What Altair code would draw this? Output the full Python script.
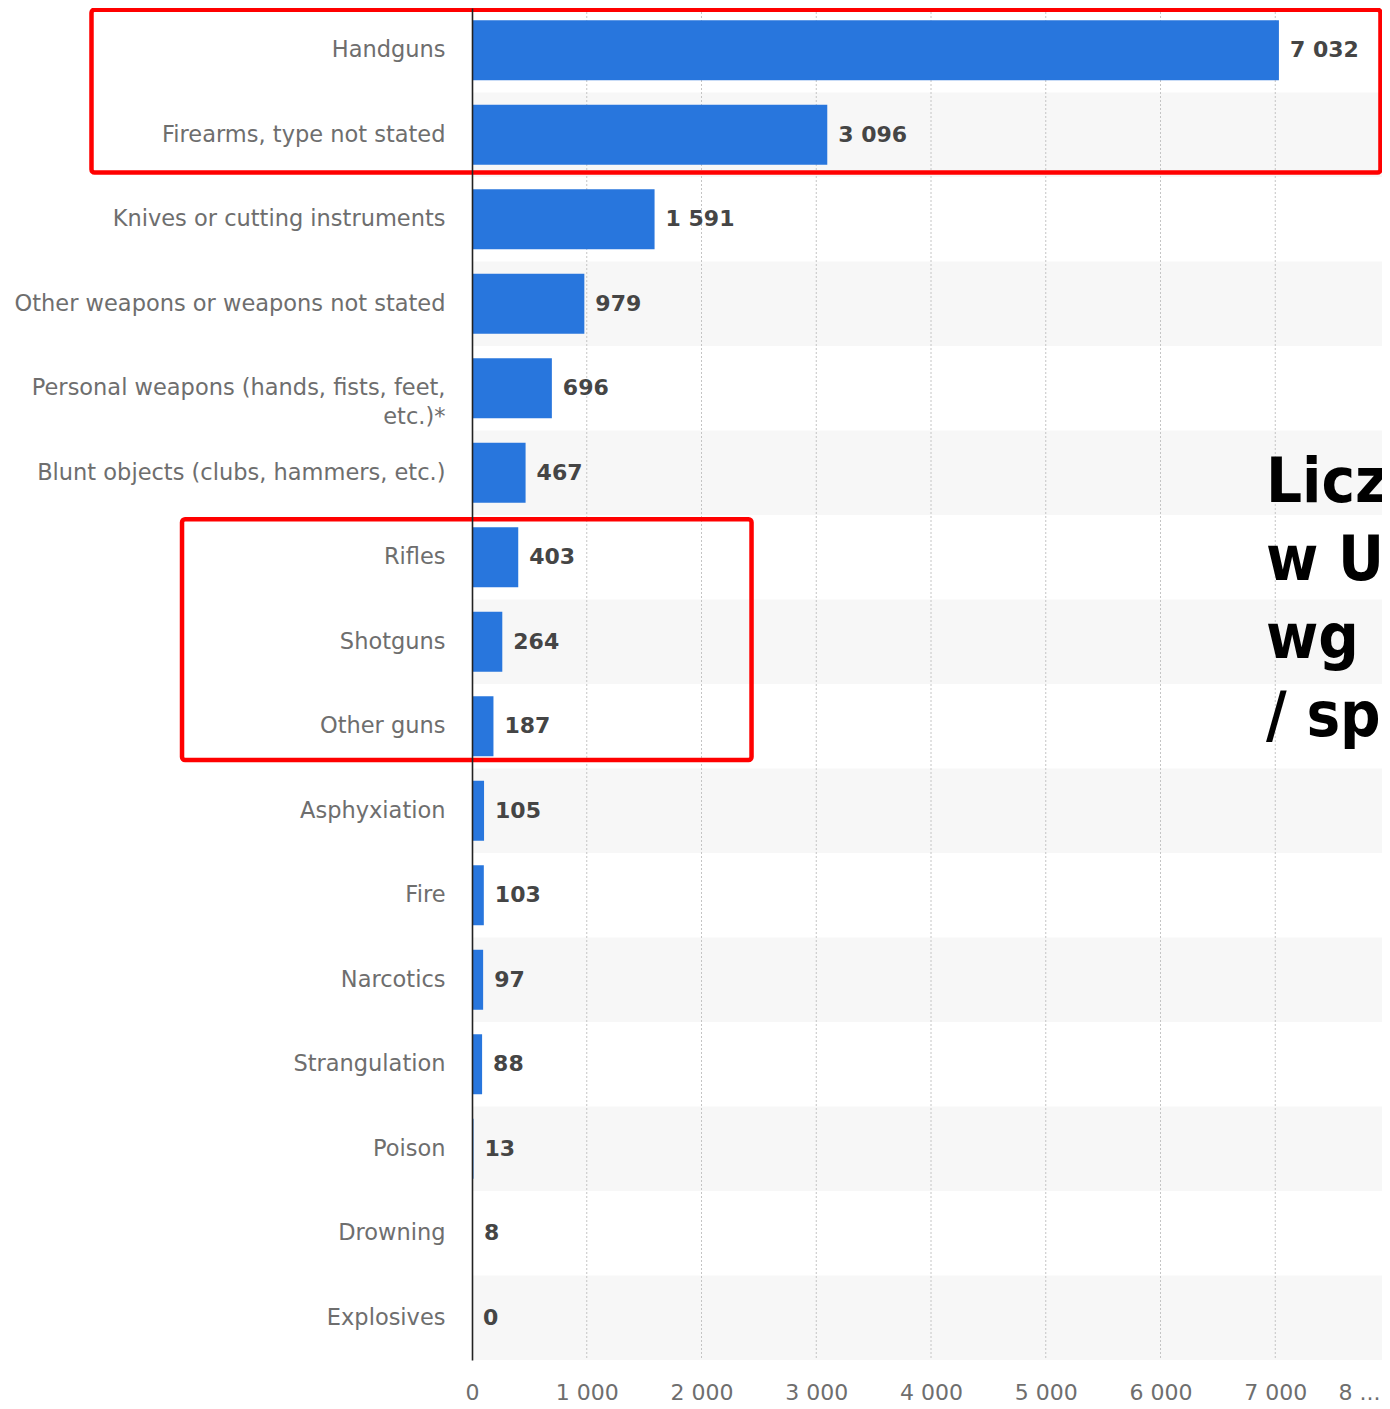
import json
import altair as alt
import pandas as pd

# ---------------- data ----------------
categories = [
    "Handguns",
    "Firearms, type not stated",
    "Knives or cutting instruments",
    "Other weapons or weapons not stated",
    "Personal weapons (hands, fists, feet, etc.)*",
    "Blunt objects (clubs, hammers, etc.)",
    "Rifles",
    "Shotguns",
    "Other guns",
    "Asphyxiation",
    "Fire",
    "Narcotics",
    "Strangulation",
    "Poison",
    "Drowning",
    "Explosives",
]
values = [7032, 3096, 1591, 979, 696, 467, 403, 264, 187, 105, 103, 97, 88, 13, 8, 0]

x_ticks = [0, 1000, 2000, 3000, 4000, 5000, 6000, 7000, 8000]
x_tick_labels = ["0", "1 000", "2 000", "3 000", "4 000", "5 000", "6 000", "7 000", "8 ..."]
grid_ticks = [1000, 2000, 3000, 4000, 5000, 6000, 7000]

# highlight boxes (x in data units, y in row units from the top)
box_x0 = [-3316, -2527]
box_x1 = [7917, 2436]
box_row0 = [0.02, 6.05]
box_row1 = [1.947, 8.9]

# overlay heading (cut off by the right edge in the reference)
title_lines = ["Liczba ofiar zabójstw", "w USA w 2019 r.", "wg użytego narzędzia", "/ sposobu"]
title_x = [6919]
title_row = [5.846]

# ---------------- layout ----------------
W, H = 910, 1352          # visible plot area (page is 1390 wide, 8px margin)
RANGE = 918               # the 0..8000 axis runs slightly past the visible edge
XMAX = 8000
PI = 0.29
n = len(categories)

df = pd.DataFrame({"category": categories, "value": values, "row": list(range(n))})
grid_df = pd.DataFrame({"t": grid_ticks})
box_df = pd.DataFrame({"x0": box_x0, "x1": box_x1, "r0": box_row0, "r1": box_row1})
title_df = pd.DataFrame({"x": title_x, "r": title_row, "t": ["\n".join(title_lines)]})

xscale = alt.Scale(domain=[0, XMAX], range=[0, RANGE], nice=False, zero=True)
yscale = alt.Scale(domain=categories, paddingInner=PI, paddingOuter=PI / 2)
iscale = alt.Scale(domain=[0, n], reverse=True, nice=False, zero=False)

label_array = json.dumps(x_tick_labels)
xaxis = alt.Axis(
    title=None,
    values=x_ticks,
    grid=False,
    ticks=False,
    domain=False,
    labelFont="DejaVu Sans",
    labelFontSize=22,
    labelColor="#6e6e6e",
    labelPadding=22,
    labelOverlap=False,
    labelBound=False,
    labelExpr=f"{label_array}[round(datum.value / 1000)]",
    labelAlign={"condition": {"test": f"datum.value == {XMAX}", "value": "right"}, "value": "center"},
    labelOffset={"condition": {"test": f"datum.value == {XMAX}", "value": -10}, "value": 0},
)

personal = categories[4]
yaxis = alt.Axis(
    title=None,
    ticks=False,
    domain=True,
    domainColor="#222222",
    domainWidth=1.6,
    labelFont="DejaVu Sans",
    labelFontSize=22.5,
    labelColor="#6e6e6e",
    labelPadding=27,
    labelLimit=700,
    labelLineHeight=29,
    zindex=1,
    labelExpr=(
        f"datum.value == '{personal}' ? "
        "['Personal weapons (hands, fists, feet,', 'etc.)*'] : datum.value"
    ),
)

y_nom = alt.Y("category:N", scale=yscale, axis=yaxis)

stripes = (
    alt.Chart(df)
    .transform_filter("datum.row % 2 == 1")
    .mark_bar(color="#f7f7f7", height=alt.RelativeBandSize(band=1 / (1 - PI)))
    .encode(
        y=y_nom,
        x=alt.X(datum=0, type="quantitative", scale=xscale, axis=xaxis),
        x2=alt.X2(datum=XMAX),
    )
)

grid = (
    alt.Chart(grid_df)
    .mark_rule(color="#c4c4c4", strokeDash=[2, 2], strokeWidth=1)
    .encode(x=alt.X("t:Q", scale=xscale, axis=xaxis))
)

bars = (
    alt.Chart(df)
    .mark_bar(color="#2876dd")
    .encode(x=alt.X("value:Q", scale=xscale, axis=xaxis), y=y_nom)
)

labels = (
    alt.Chart(df)
    .transform_calculate(lbl="replace(format(datum.value, ','), ',', ' ')")
    .mark_text(
        align="left",
        baseline="middle",
        dx=11,
        font="DejaVu Sans",
        fontWeight="bold",
        fontSize=22,
        color="#454545",
    )
    .encode(x=alt.X("value:Q", scale=xscale, axis=xaxis), y=y_nom, text="lbl:N")
)

boxes = (
    alt.Chart(box_df)
    .mark_rect(fill="transparent", stroke="#ff0000", strokeWidth=4.5, cornerRadius=3)
    .encode(
        x=alt.X("x0:Q", scale=xscale, axis=xaxis),
        x2="x1",
        y=alt.Y("r0:Q", scale=iscale, axis=None),
        y2="r1",
    )
)

big = (
    alt.Chart(title_df)
    .mark_text(
        align="left",
        baseline="alphabetic",
        lineBreak="\n",
        lineHeight=78,
        font="DejaVu Sans Condensed, DejaVu Sans",
        fontWeight="bold",
        fontSize=63,
        color="#000000",
    )
    .encode(
        x=alt.X("x:Q", scale=xscale, axis=xaxis),
        y=alt.Y("r:Q", scale=iscale, axis=None),
        text="t:N",
    )
)

base = alt.layer(stripes, grid, bars, labels)
annot = alt.layer(boxes, big)

chart = (
    alt.layer(base, annot)
    .resolve_scale(y="independent")
    .properties(
        width=W,
        height=H,
        autosize=alt.AutoSizeParams(type="none"),
        padding={"left": 464, "top": 0, "right": 0, "bottom": 49},
        background="#ffffff",
    )
    .configure_view(strokeWidth=0)
)

chart.save("out.html", embed_options={"renderer": "svg", "actions": False})
